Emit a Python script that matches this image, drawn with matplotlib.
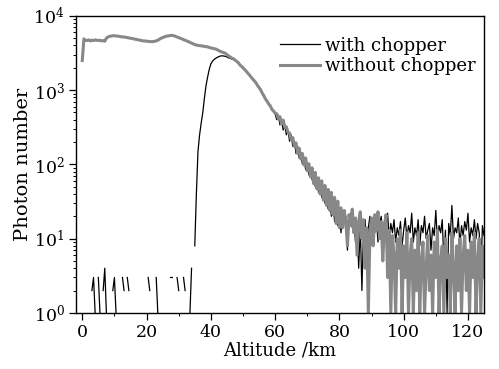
import numpy as np
import matplotlib
matplotlib.use("Agg")
import matplotlib.pyplot as plt
from matplotlib.ticker import LogLocator, MultipleLocator, NullFormatter

nan = np.nan

# altitude grid, km (0.5 km bins)
altitude = np.arange(0, 125.01, 0.5)

# without chopper, 0 - 60 km
gray_low = [
    2500, 4900, 4700, 4650, 4750, 4600, 4700, 4650, 4750, 4700,
    4650, 4700, 4600, 4650, 4550, 5000, 5200, 5300, 5350, 5400,
    5400, 5350, 5350, 5300, 5250, 5200, 5200, 5150, 5100, 5050,
    5000, 4950, 4900, 4850, 4800, 4750, 4700, 4650, 4600, 4600,
    4550, 4550, 4500, 4500, 4500, 4550, 4600, 4700, 4850, 5000,
    5100, 5200, 5300, 5350, 5400, 5450, 5450, 5400, 5300, 5200,
    5100, 5000, 4900, 4800, 4700, 4600, 4500, 4400, 4300, 4200,
    4100, 4050, 4000, 3980, 3950, 3920, 3880, 3850, 3820, 3760,
    3700, 3660, 3620, 3580, 3500, 3400, 3320, 3250, 3200, 3140,
    3000, 2900, 2800, 2700, 2650, 2550, 2450, 2350, 2200, 2100,
    2000, 1900, 1800, 1700, 1600, 1500, 1420, 1340, 1260, 1160,
    1080, 1010, 910, 840, 760, 710, 650, 615, 550, 525,
    490,
]
# without chopper, 60.5 - 80 km
gray_mid = [
    480, 410, 440, 350, 395, 315, 320, 270, 265, 215,
    230, 175, 195, 140, 165, 118, 140, 98, 122, 82,
    102, 68, 90, 55, 78, 47, 66, 40, 60, 33,
    52, 28, 46, 24, 42, 21, 36, 16, 32, 14,
]
# without chopper, 80.5 - 125 km
gray_tail = [
    26, 14, 24, 17, 8, 21, 15, 25, 12, 19,
    6, 17, 23, 10, 18, 4, 14, 1, 12, 19,
    8, 21, 13, 23, 10, 17, 5, 15, 21, 3,
    13, 1, 11, 6, 1, 10, 4, 13, 1, 8,
    3, 12, 1, 6, 10, 1, 7, 2, 12, 1,
    5, 9, 1, 4, 11, 2, 6, 1, 9, 3,
    13, 1, 5, 8, 1, 10, 3, 6, 1, 12,
    4, 1, 8, 2, 10, 1, 6, 11, 2, 7,
    1, 9, 3, 12, 1, 5, 10, 1, 8, 3,
]

# with chopper, 0 - 34.5 km (nan = no counts)
black_low = [
    nan, nan, nan, nan, nan, nan, 2, 3, 1, nan,
    3, 1, nan, 2, 4, 1, nan, nan, nan, 2,
    3, 1, nan, nan, nan, 3, 2, nan, 3, 2,
    nan, nan, nan, nan, nan, nan, nan, nan, nan, nan,
    nan, 3, 2, nan, nan, nan, 3, 1, nan, nan,
    nan, nan, nan, nan, nan, 3, 3, nan, nan, 3,
    2, nan, nan, 3, 2, nan, nan, 1, 4, nan,
]
# with chopper, 35 - 79.5 km
black_mid = [
    8, 40, 150, 250, 360, 500, 780, 1150, 1500, 1900,
    2250, 2450, 2580, 2680, 2760, 2830, 2880, 2900, 2880, 2850,
    2800, 2720, 2680, 2620, 2580, 2500, 2420, 2320, 2180, 2080,
    1980, 1880, 1790, 1690, 1590, 1490, 1410, 1330, 1250, 1150,
    1070, 990, 910, 820, 760, 690, 650, 600, 550, 510,
    480, 400, 460, 340, 400, 290, 340, 250, 290, 205,
    250, 175, 205, 140, 175, 120, 145, 100, 118, 85,
    105, 72, 88, 62, 75, 50, 63, 42, 55, 36,
    48, 30, 40, 25, 35, 20, 31, 17, 27, 15,
]
# with chopper, 80 - 125 km
black_tail = [
    22, 12, 24, 16, 20, 7, 18, 22, 14, 19,
    9, 17, 4, 15, 2, 13, 18, 6, 14, 20,
    10, 16, 12, 19, 9, 15, 20, 11, 17, 13,
    22, 10, 16, 12, 18, 9, 14, 11, 17, 8,
    13, 19, 10, 15, 12, 22, 9, 14, 11, 18,
    8, 15, 12, 20, 10, 13, 16, 7, 14, 11,
    24, 9, 15, 12, 18, 5, 13, 1, 16, 11,
    28, 10, 14, 12, 19, 8, 15, 11, 17, 13,
    22, 9, 14, 11, 18, 10, 16, 12, 3, 15,
    11,
]

without_chopper = np.array(gray_low + gray_mid + gray_tail, dtype=float)
with_chopper = np.array(black_low + black_mid + black_tail, dtype=float)

plt.rcParams['font.family'] = ['DejaVu Serif']
plt.rcParams['mathtext.fontset'] = 'dejavuserif'

fig = plt.figure(figsize=(4.99, 3.69), dpi=100)
ax = fig.add_axes([0.152, 0.152, 0.818, 0.805])

ax.plot(altitude, with_chopper, color='black', lw=0.9, label='with chopper')
ax.plot(altitude, without_chopper, color='#888888', lw=2.2, label='without chopper')

ax.set_yscale('log')
ax.set_xlim(-2, 125)
ax.set_ylim(1, 1e4)
ax.xaxis.set_major_locator(MultipleLocator(20))
ax.xaxis.set_minor_locator(MultipleLocator(10))
ax.yaxis.set_major_locator(LogLocator(base=10, numticks=10))
ax.yaxis.set_minor_locator(LogLocator(base=10, subs=np.arange(2, 10), numticks=10))
ax.yaxis.set_minor_formatter(NullFormatter())

ax.tick_params(which='major', direction='out', length=5, width=0.9, labelsize=12.5, pad=3)
ax.tick_params(which='minor', direction='out', length=2.5, width=0.7)
for s in ax.spines.values():
    s.set_linewidth(1.0)

ax.set_xlabel('Altitude /km', fontsize=13, labelpad=0)
ax.set_ylabel('Photon number', fontsize=14, labelpad=1)

ax.legend(loc='upper left', bbox_to_anchor=(0.50, 0.93), frameon=False,
          fontsize=13, handlelength=2.2, handletextpad=0.3, borderpad=0,
          borderaxespad=0, labelspacing=0.15)

fig.savefig('out.png', dpi=100)
